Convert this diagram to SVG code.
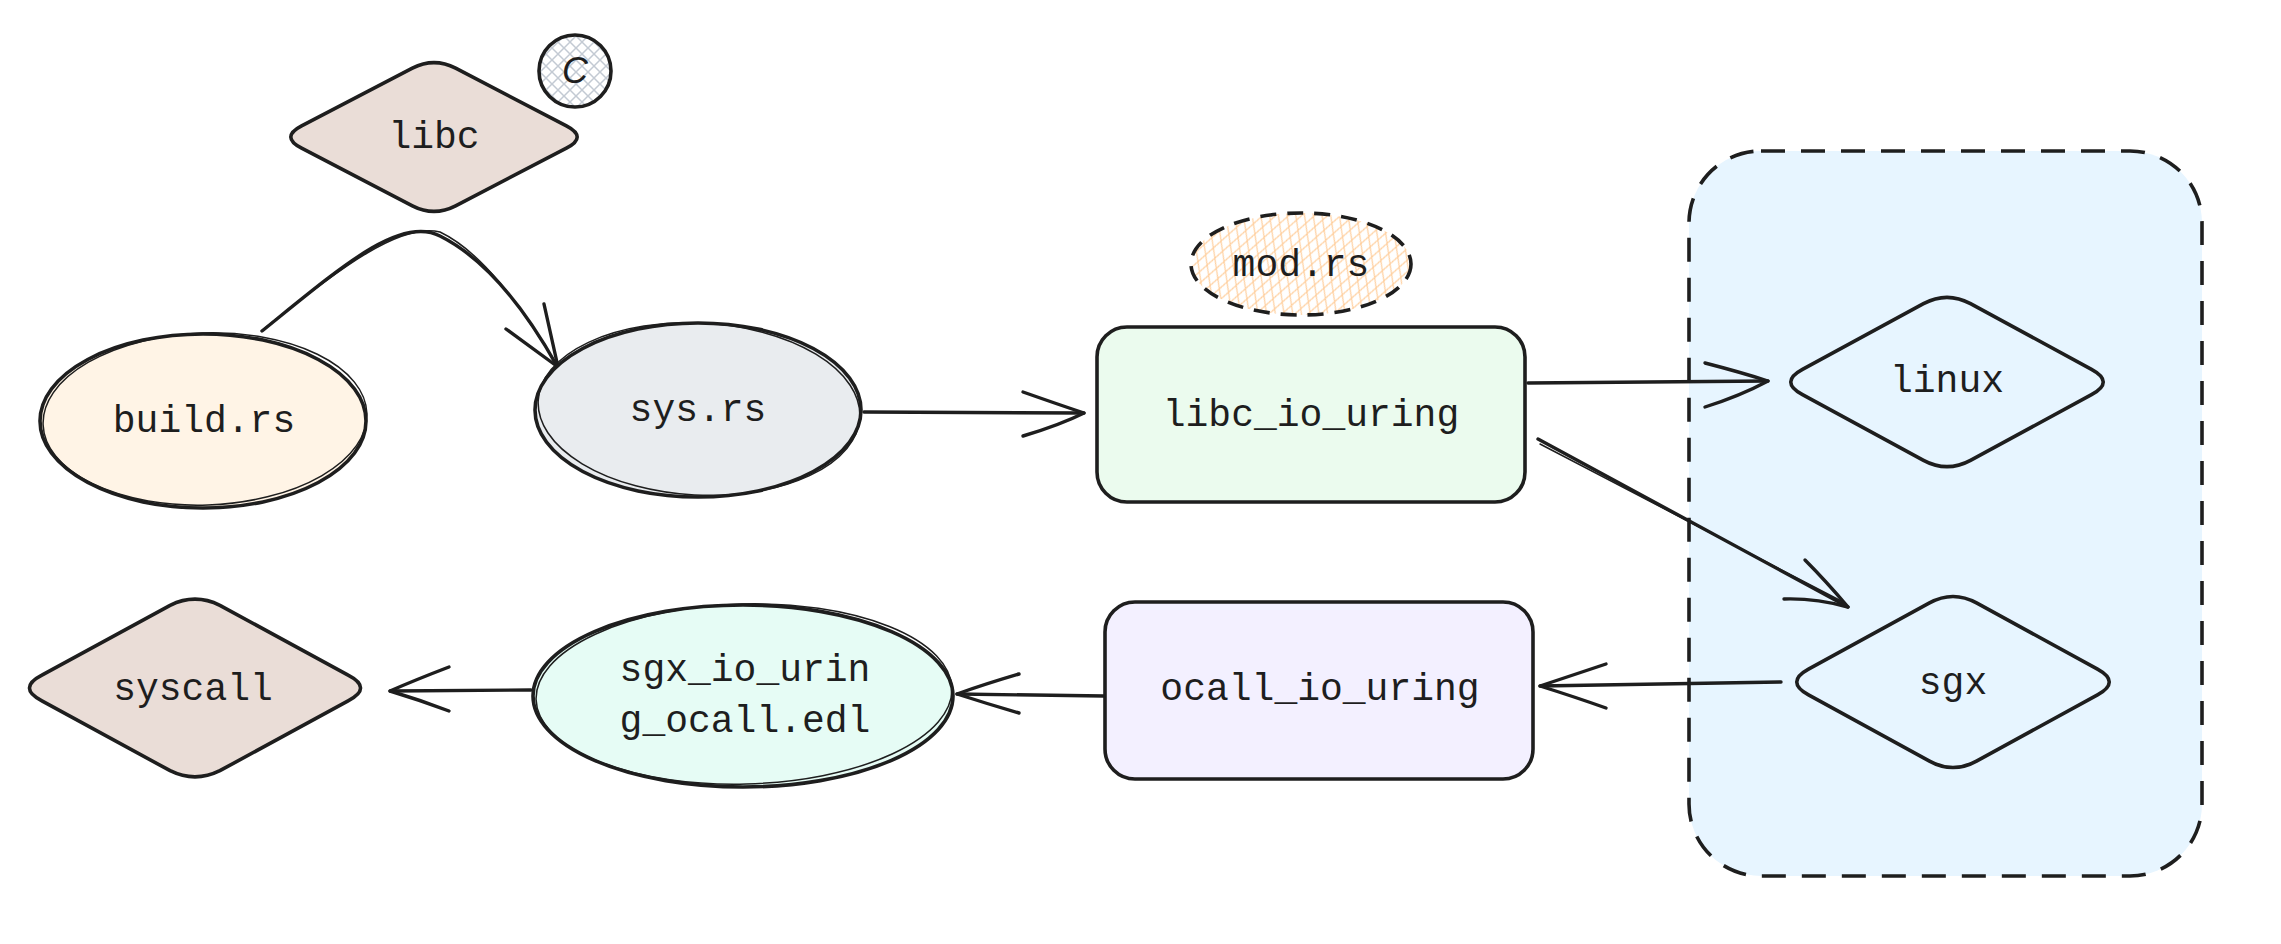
<svg xmlns="http://www.w3.org/2000/svg" width="2281" height="944" viewBox="0 0 2281 944">
<style>
.o{stroke:#1e1e1e;stroke-width:3.6;fill:none;stroke-linecap:round;stroke-linejoin:round}
.o2{stroke:#1e1e1e;stroke-width:1.5;fill:none;stroke-linecap:round}
.t{font-family:"Liberation Mono","DejaVu Sans Mono",monospace;font-size:38px;fill:#1e1e1e;text-anchor:middle}
.c{stroke:#1e1e1e;stroke-width:3.4;fill:none;stroke-linecap:round;stroke-linejoin:round}
</style>
<defs>
<pattern id="hOrange" width="14" height="14" patternUnits="userSpaceOnUse" patternTransform="rotate(20) scale(0.7,1.3)">
<path d="M0,0 L14,14 M14,0 L0,14 M-7,7 L7,21 M7,-7 L21,7" stroke="#ffcf9e" stroke-width="1.4" fill="none"/>
</pattern>
<pattern id="hGray" width="12" height="12" patternUnits="userSpaceOnUse">
<path d="M0,0 L12,12 M12,0 L0,12" stroke="#c3cad3" stroke-width="1.5" fill="none"/>
</pattern>
</defs>

<g id="container">
<rect x="1689" y="151" width="513" height="725" rx="72" fill="#e7f5ff" stroke="#1e1e1e" stroke-width="3.6" stroke-dasharray="24 16"/>
</g>

<g id="connectors">
<path class="c" d="M262,331 C340,268 400,215 440,236 C480,256 520,300 557,366"/>
<path class="o2" d="M265,328 C342,266 402,222 440,232 C482,252 520,305 555,362"/>
<path class="c" d="M506,329 L558,367 L544,304"/>
<path class="c" d="M864,412 L1084,413"/>
<path class="c" d="M1023,392 Q1060,405 1084,413 Q1060,425 1023,436"/>
<path class="c" d="M1528,383 L1768,381"/>
<path class="c" d="M1705,363 Q1740,372 1768,381 Q1740,396 1705,407"/>
<path class="c" d="M1538,439 L1848,607"/>
<path class="o2" d="M1540,444 L1845,603"/>
<path class="c" d="M1805,560 Q1825,580 1848,607 Q1815,598 1784,599"/>
<path class="c" d="M1781,682 L1540,686"/>
<path class="c" d="M1606,664 Q1570,676 1540,686 Q1575,697 1606,708"/>
<path class="c" d="M1104,696 L957,694"/>
<path class="c" d="M1019,674 Q985,684 957,694 Q988,704 1019,713"/>
<path class="c" d="M531,690 L390,691"/>
<path class="c" d="M449,667 Q415,680 390,691 Q420,700 449,711"/>
</g>

<g id="libc">
<path d="M455.6,68.2 L566.4,125.8 Q588,137 566.4,148.2 L455.6,205.8 Q434,217 412.4,205.8 L301.6,148.2 Q280,137 301.6,125.8 L412.4,68.2 Q434,57 455.6,68.2 Z" class="o" style="fill:#eaddd7"/>
<text class="t" x="434" y="148">libc</text>
</g>

<g id="c-badge">
<circle cx="575" cy="71" r="36" class="o" style="fill:url(#hGray)"/>
<text x="575" y="83" style="font-family:'Liberation Sans',sans-serif;font-style:italic;font-size:36px;fill:#1e1e1e;text-anchor:middle">C</text>
</g>

<g id="build-rs">
<ellipse cx="203" cy="421" rx="163" ry="87" class="o" style="fill:#fff4e6"/>
<ellipse cx="205" cy="419" rx="162" ry="86" class="o2" transform="rotate(-2 205 419)"/>
<text class="t" x="204" y="432">build.rs</text>
</g>

<g id="sys-rs">
<ellipse cx="698" cy="410" rx="163" ry="87" class="o" style="fill:#e9ecef"/>
<ellipse cx="699" cy="409" rx="161" ry="86" class="o2" transform="rotate(3 699 409)"/>
<text class="t" x="698" y="421">sys.rs</text>
</g>

<g id="mod-rs">
<ellipse cx="1301" cy="264" rx="110" ry="51" fill="url(#hOrange)" stroke="#1e1e1e" stroke-width="3.6" stroke-dasharray="16 11"/>
<text class="t" x="1301" y="276">mod.rs</text>
</g>

<g id="libc-io-uring">
<rect x="1097" y="327" width="428" height="175" rx="30" class="o" style="fill:#ebfbee"/>
<text class="t" x="1311" y="426">libc_io_uring</text>
</g>

<g id="linux">
<path d="M1970.5,303.7 L2091.5,369.3 Q2115,382 2091.5,394.7 L1970.5,460.3 Q1947,473 1923.5,460.3 L1802.5,394.7 Q1779,382 1802.5,369.3 L1923.5,303.7 Q1947,291 1970.5,303.7 Z" class="o"/>
<text class="t" x="1947" y="392">linux</text>
</g>

<g id="sgx">
<path d="M1976.5,602.9 L2097.5,669.1 Q2121,682 2097.5,694.9 L1976.5,761.1 Q1953,774 1929.5,761.1 L1808.5,694.9 Q1785,682 1808.5,669.1 L1929.5,602.9 Q1953,590 1976.5,602.9 Z" class="o"/>
<text class="t" x="1953" y="694">sgx</text>
</g>

<g id="ocall-io-uring">
<rect x="1105" y="602" width="428" height="177" rx="30" class="o" style="fill:#f3f0ff"/>
<text class="t" x="1320" y="700">ocall_io_uring</text>
</g>

<g id="sgx-io-uring-ocall-edl">
<ellipse cx="743" cy="696" rx="210" ry="91" class="o" style="fill:#e6fcf5"/>
<ellipse cx="744" cy="694" rx="208" ry="90" class="o2" transform="rotate(-1.5 744 694)"/>
<text class="t" x="745" y="681">sgx_io_urin</text>
<text class="t" x="745" y="732">g_ocall.edl</text>
</g>

<g id="syscall">
<path d="M219.9,605.3 L348.1,675.2 Q373,688 348.1,700.8 L219.9,770.7 Q195,783 170.1,770.7 L41.9,700.8 Q17,688 41.9,675.2 L170.1,605.3 Q195,593 219.9,605.3 Z" class="o" style="fill:#eaddd7"/>
<text class="t" x="193" y="700">syscall</text>
</g>
</svg>
